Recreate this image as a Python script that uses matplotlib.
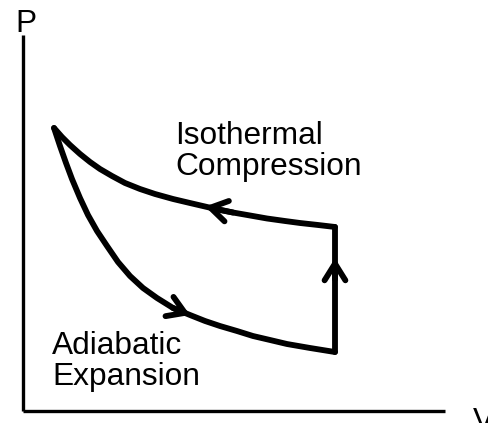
import matplotlib
matplotlib.use("Agg")
import matplotlib.pyplot as plt

# isothermal branch (top), read left -> right
iso_v = [0.735, 0.924, 1.114, 1.351, 1.588, 1.825, 2.109, 2.417, 2.773, 3.128, 3.555,
         3.957, 4.313, 4.668, 4.976, 5.379, 5.782, 6.209, 6.564, 6.991, 7.393]
iso_p = [7.525, 7.285, 7.072, 6.833, 6.620, 6.433, 6.247, 6.061, 5.901, 5.768, 5.635,
         5.528, 5.435, 5.342, 5.275, 5.196, 5.116, 5.049, 4.996, 4.943, 4.890]

# adiabatic branch (bottom), read left -> right
adi_v = [0.735, 0.877, 1.019, 1.161, 1.351, 1.540, 1.754, 1.991, 2.251, 2.536, 2.844,
         3.175, 3.555, 3.957, 4.313, 4.668, 5.071, 5.450, 5.853, 6.256, 6.801, 7.393]
adi_p = [7.525, 7.045, 6.593, 6.167, 5.661, 5.209, 4.783, 4.384, 3.958, 3.585, 3.266,
         3.000, 2.734, 2.547, 2.388, 2.254, 2.121, 1.988, 1.882, 1.775, 1.669, 1.562]

# vertical leg at the right
side_v = [7.393, 7.393]
side_p = [1.562, 4.890]

# arrow (tip, tail) pairs
arrows = [
    ((4.313, 5.435), (4.976, 5.275)),
    ((3.957, 2.547), (3.555, 2.734)),
    ((7.393, 4.06), (7.393, 3.50)),
]

labels = ["Isothermal\nCompression", "Adiabatic\nExpansion"]
label_pos = [(3.60, 6.27), (0.69, 0.68)]

_FONT = "Liberation Sans"
_FONTSIZE = 22.8
_LW = 4.2

W, H = 489, 423
fig = plt.figure(figsize=(W / 100, H / 100), dpi=100)
ax = fig.add_axes([23 / W, 12.3 / H, (445 - 23) / W, (410.7 - 35) / H])
ax.set_xlim(0, 10)
ax.set_ylim(0, 10)
ax.set_xticks([])
ax.set_yticks([])
for side in ("top", "right"):
    ax.spines[side].set_visible(False)
for side in ("left", "bottom"):
    ax.spines[side].set_linewidth(2.4)
    ax.spines[side].set_capstyle("butt")

line_kw = dict(color="black", lw=_LW, solid_capstyle="round", solid_joinstyle="round", clip_on=False)
ax.plot(iso_v, iso_p, **line_kw)
ax.plot(adi_v, adi_p, **line_kw)
ax.plot(side_v, side_p, **line_kw)

for tip, tail in arrows:
    ax.annotate(
        "", xy=tip, xytext=tail,
        arrowprops=dict(
            arrowstyle="->,head_length=1.2,head_width=0.75",
            mutation_scale=10, lw=_LW, color="black",
            shrinkA=0, shrinkB=0, capstyle="round", joinstyle="round",
        ),
    )

for text, (x, y) in zip(labels, label_pos):
    ax.text(x, y, text, family=_FONT, fontsize=_FONTSIZE, ha="left", va="baseline",
            linespacing=1.05)

ax.text(-0.19, 10.08, "P", family=_FONT, fontsize=_FONTSIZE, ha="left", va="baseline", clip_on=False)
# the reference crops the V label at the bottom edge as well
ax.text(10.66, -0.51, "V", family=_FONT, fontsize=_FONTSIZE, ha="left", va="baseline", clip_on=False)

fig.savefig("out.png", dpi=100)
